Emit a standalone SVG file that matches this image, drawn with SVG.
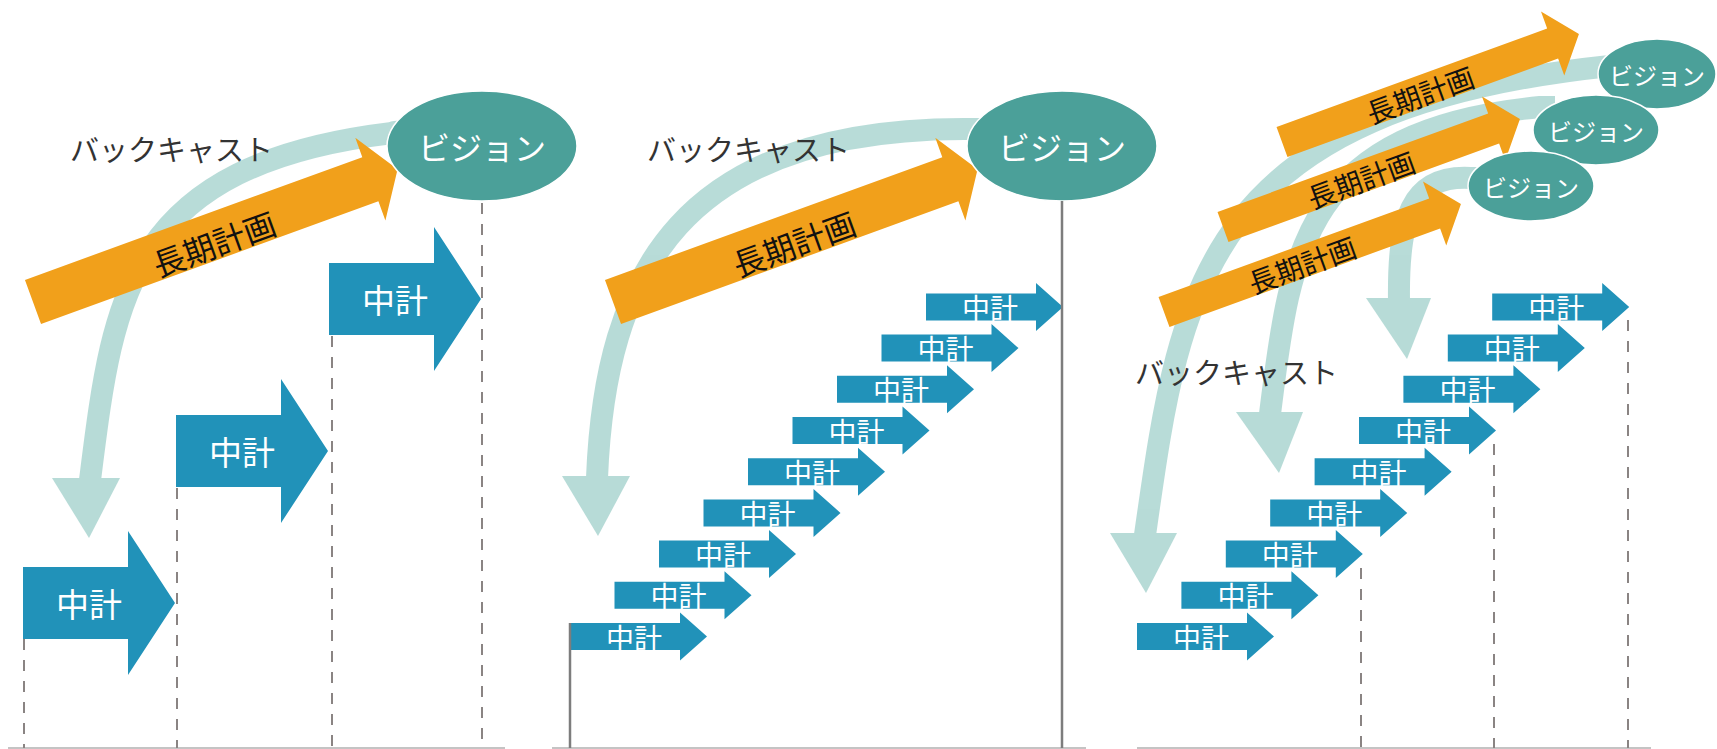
<svg xmlns="http://www.w3.org/2000/svg" width="1717" height="749" viewBox="0 0 1717 749">
<style>
.mid{fill:#2192b9}
.mt{fill:#fff;font-family:"Noto Sans CJK JP","Noto Sans",sans-serif;text-anchor:middle;dominant-baseline:central}
.vis{fill:#4ba099;stroke:#fff;stroke-width:1.5}
.plan{fill:#f1a01b}
.pt{fill:#111;font-family:"Noto Sans CJK JP",sans-serif;text-anchor:middle;dominant-baseline:central}
.band{fill:none;stroke:#71b9b1;stroke-width:22}
.bh{fill:#71b9b1}
.bc{fill:#333;font-family:"Noto Sans CJK JP",sans-serif;font-size:29px;dominant-baseline:central}
.dash{stroke:#8a8483;stroke-width:2;stroke-dasharray:11 10;fill:none}
.solid{stroke:#7d7d7d;stroke-width:2.5;fill:none}
.base{stroke:#b0b0b0;stroke-width:1.5;fill:none}
</style>
<defs>
<path id="bigArrow" d="M0,-36 H105 V-72 L152,0 L105,72 V36 H0 Z"/>
<path id="smallArrow" d="M0,-13.5 H110 V-24 L137,0 L110,24 V13.5 H0 Z"/>
<path id="planBig" d="M0,-23.5 H359 V-44 L388,0 L359,44 V23.5 H0 Z"/>
<path id="planSmall" d="M0,-16 H288 V-34 L316,0 L288,34 V16 H0 Z"/>
</defs>
<rect width="1717" height="749" fill="#fff"/>

<!-- ===== Connectors (backcast arcs, baselines, guide lines) ===== -->
<g id="connectors">
  <g id="backcast1" opacity="0.5">
    <path class="band" d="M420,131 C392,131 392,133 392,133 C126,165 113,298 90,480"/>
    <path class="bh" d="M52,478 L120,478 L89,538 Z"/>
  </g>
  <g id="backcast2" opacity="0.5">
    <path class="band" d="M990,129 L975,129 C680,125 605,275 597,478"/>
    <path class="bh" d="M562,476 L630,476 L598,536 Z"/>
  </g>
  <g id="backcast3a" opacity="0.5">
    <path class="band" d="M1625,66 L1610,66 C1200,109 1180,290 1145,535"/>
    <path class="bh" d="M1110,533 L1177,533 L1146,593 Z"/>
  </g>
  <g id="backcast3b" opacity="0.5">
    <path class="band" d="M1555,107 L1540,107 C1302,130 1290,253 1270,414"/>
    <path class="bh" d="M1236,412 L1303,412 L1279,473 Z"/>
  </g>
  <g id="backcast3c" opacity="0.5">
    <path class="band" d="M1490,178 L1470,178 C1410,175 1398,220 1399,300"/>
    <path class="bh" d="M1366,298 L1431,298 L1407,359 Z"/>
  </g>
  <g id="baselines">
    <line class="base" x1="8" y1="748" x2="505" y2="748"/>
    <line class="base" x1="552" y1="748" x2="1086" y2="748"/>
    <line class="base" x1="1137" y1="748" x2="1651" y2="748"/>
  </g>
</g>

<!-- ===== Panel 1 ===== -->
<g id="p1-label"><text class="bc" x="70" y="148">バックキャスト</text></g>
<g id="p1-plan" transform="translate(33,302) rotate(-20)">
  <use href="#planBig" class="plan"/>
  <text class="pt" x="190" y="6" font-size="32">長期計画</text>
</g>
<g id="p1-vision">
  <ellipse class="vis" cx="482" cy="146" rx="95" ry="55"/>
  <text class="mt" x="482" y="146" font-size="32">ビジョン</text>
</g>
<g id="p1-mid1"><use href="#bigArrow" class="mid" x="23" y="603"/><text class="mt" x="89" y="603" font-size="33">中計</text></g>
<g id="p1-mid2"><use href="#bigArrow" class="mid" x="176" y="451"/><text class="mt" x="242" y="451" font-size="33">中計</text></g>
<g id="p1-mid3"><use href="#bigArrow" class="mid" x="329" y="299"/><text class="mt" x="395" y="299" font-size="33">中計</text></g>
<g id="p1-guides">
  <line class="dash" x1="24" y1="639" x2="24" y2="748"/>
  <line class="dash" x1="177" y1="488" x2="177" y2="748"/>
  <line class="dash" x1="332" y1="336" x2="332" y2="748"/>
  <line class="dash" x1="482" y1="203" x2="482" y2="748"/>
</g>

<!-- ===== Panel 2 ===== -->
<g id="p2-label"><text class="bc" x="647" y="148">バックキャスト</text></g>
<g id="p2-plan" transform="translate(613,302) rotate(-20)">
  <use href="#planBig" class="plan"/>
  <text class="pt" x="190" y="6" font-size="32">長期計画</text>
</g>
<g id="p2-vision">
  <ellipse class="vis" cx="1062" cy="146" rx="95" ry="55"/>
  <text class="mt" x="1062" y="146" font-size="32">ビジョン</text>
</g>
<g id="p2-mids">
  <g id="p2-mid1"><use href="#smallArrow" class="mid" x="570" y="636.5"/><text class="mt" x="634" y="636.5" font-size="28">中計</text></g>
  <g id="p2-mid2"><use href="#smallArrow" class="mid" x="614.5" y="595.3"/><text class="mt" x="678.5" y="595.3" font-size="28">中計</text></g>
  <g id="p2-mid3"><use href="#smallArrow" class="mid" x="659" y="554.1"/><text class="mt" x="723" y="554.1" font-size="28">中計</text></g>
  <g id="p2-mid4"><use href="#smallArrow" class="mid" x="703.5" y="512.9"/><text class="mt" x="767.5" y="512.9" font-size="28">中計</text></g>
  <g id="p2-mid5"><use href="#smallArrow" class="mid" x="748" y="471.7"/><text class="mt" x="812" y="471.7" font-size="28">中計</text></g>
  <g id="p2-mid6"><use href="#smallArrow" class="mid" x="792.5" y="430.5"/><text class="mt" x="856.5" y="430.5" font-size="28">中計</text></g>
  <g id="p2-mid7"><use href="#smallArrow" class="mid" x="837" y="389.3"/><text class="mt" x="901" y="389.3" font-size="28">中計</text></g>
  <g id="p2-mid8"><use href="#smallArrow" class="mid" x="881.5" y="348.1"/><text class="mt" x="945.5" y="348.1" font-size="28">中計</text></g>
  <g id="p2-mid9"><use href="#smallArrow" class="mid" x="926" y="306.9"/><text class="mt" x="990" y="306.9" font-size="28">中計</text></g>
</g>
<g id="p2-guides">
  <line class="solid" x1="570" y1="623" x2="570" y2="748"/>
  <line class="solid" x1="1062" y1="201" x2="1062" y2="748"/>
</g>

<!-- ===== Panel 3 ===== -->
<g id="p3-label"><text class="bc" x="1135" y="371">バックキャスト</text></g>
<g id="p3-plan1" transform="translate(1164,312) rotate(-20)">
  <use href="#planSmall" class="plan"/>
  <text class="pt" x="146" y="2" font-size="28">長期計画</text>
</g>
<g id="p3-plan2" transform="translate(1223,227) rotate(-20)">
  <use href="#planSmall" class="plan"/>
  <text class="pt" x="146" y="2" font-size="28">長期計画</text>
</g>
<g id="p3-plan3" transform="translate(1282,142) rotate(-20)">
  <use href="#planSmall" class="plan"/>
  <text class="pt" x="146" y="2" font-size="28">長期計画</text>
</g>
<g id="p3-vision3">
  <ellipse class="vis" cx="1657" cy="74" rx="59" ry="35"/>
  <text class="mt" x="1657" y="74" font-size="24">ビジョン</text>
</g>
<g id="p3-vision2">
  <ellipse class="vis" cx="1596" cy="130" rx="63" ry="35"/>
  <text class="mt" x="1596" y="130" font-size="24">ビジョン</text>
</g>
<g id="p3-vision1">
  <ellipse class="vis" cx="1531" cy="186" rx="63" ry="35"/>
  <text class="mt" x="1531" y="186" font-size="24">ビジョン</text>
</g>
<g id="p3-mids">
  <g id="p3-mid1"><use href="#smallArrow" class="mid" x="1137" y="636.5"/><text class="mt" x="1201" y="636.5" font-size="28">中計</text></g>
  <g id="p3-mid2"><use href="#smallArrow" class="mid" x="1181.4" y="595.3"/><text class="mt" x="1245.4" y="595.3" font-size="28">中計</text></g>
  <g id="p3-mid3"><use href="#smallArrow" class="mid" x="1225.8" y="554.1"/><text class="mt" x="1289.8" y="554.1" font-size="28">中計</text></g>
  <g id="p3-mid4"><use href="#smallArrow" class="mid" x="1270.2" y="512.9"/><text class="mt" x="1334.2" y="512.9" font-size="28">中計</text></g>
  <g id="p3-mid5"><use href="#smallArrow" class="mid" x="1314.6" y="471.7"/><text class="mt" x="1378.6" y="471.7" font-size="28">中計</text></g>
  <g id="p3-mid6"><use href="#smallArrow" class="mid" x="1359" y="430.5"/><text class="mt" x="1423" y="430.5" font-size="28">中計</text></g>
  <g id="p3-mid7"><use href="#smallArrow" class="mid" x="1403.4" y="389.3"/><text class="mt" x="1467.4" y="389.3" font-size="28">中計</text></g>
  <g id="p3-mid8"><use href="#smallArrow" class="mid" x="1447.8" y="348.1"/><text class="mt" x="1511.8" y="348.1" font-size="28">中計</text></g>
  <g id="p3-mid9"><use href="#smallArrow" class="mid" x="1492.2" y="306.9"/><text class="mt" x="1556.2" y="306.9" font-size="28">中計</text></g>
</g>
<g id="p3-guides">
  <line class="dash" x1="1361" y1="568" x2="1361" y2="748"/>
  <line class="dash" x1="1494" y1="444" x2="1494" y2="748"/>
  <line class="dash" x1="1628" y1="320" x2="1628" y2="748"/>
</g>
</svg>
